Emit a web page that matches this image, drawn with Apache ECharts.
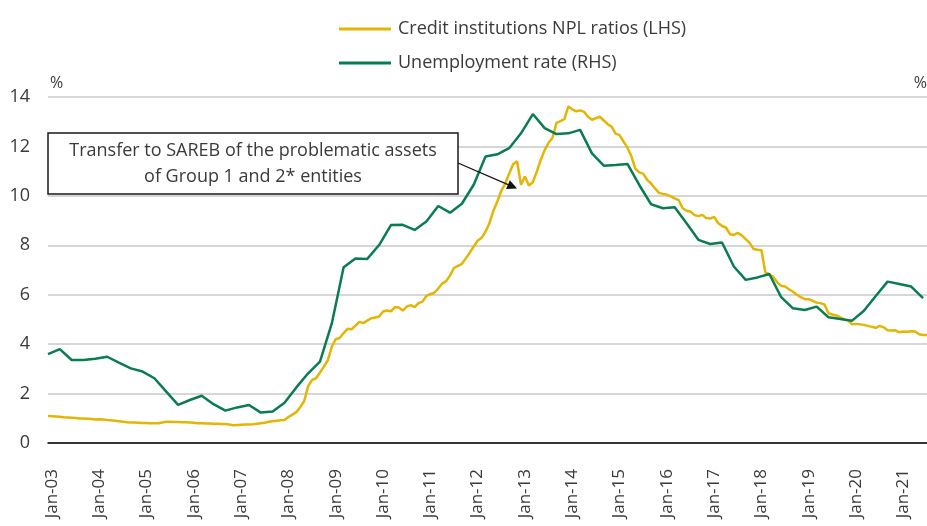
<!DOCTYPE html>
<html>
<head>
<meta charset="utf-8">
<title>NPL ratio vs unemployment</title>
<script src="https://cdn.jsdelivr.net/npm/echarts@6/dist/echarts.min.js"></script>
<style>
html, body { margin: 0; padding: 0; background: #fff; }
#chart { width: 927px; height: 526px; }
</style>
</head>
<body>
<div id="chart"></div>
<script>
// months Dec-02 .. Jul-21
var startYear = 2002, startMonth = 11, monthCount = 224;
var monthNames = ['Jan','Feb','Mar','Apr','May','Jun','Jul','Aug','Sep','Oct','Nov','Dec'];

// credit institutions NPL ratio, monthly (LHS)
var nplRatio = [
    1.09,1.08,1.07,1.06,1.04,1.03,1.02,1.01,0.99,0.99,0.98,0.97,
    0.95,0.96,0.95,0.93,0.92,0.90,0.88,0.86,0.84,0.83,0.83,0.82,
    0.81,0.81,0.80,0.80,0.80,0.83,0.86,0.86,0.85,0.85,0.84,0.84,
    0.83,0.82,0.80,0.80,0.79,0.79,0.78,0.78,0.77,0.77,0.75,0.72,
    0.73,0.74,0.75,0.75,0.76,0.78,0.80,0.82,0.86,0.88,0.90,0.92,
    0.93,1.05,1.15,1.25,1.45,1.70,2.30,2.55,2.62,2.85,3.10,3.35,
    3.90,4.20,4.25,4.45,4.62,4.60,4.75,4.90,4.85,4.95,5.05,5.08,
    5.12,5.32,5.36,5.33,5.50,5.48,5.36,5.52,5.58,5.50,5.66,5.72,
    5.95,6.02,6.08,6.25,6.45,6.55,6.78,7.08,7.17,7.25,7.47,7.70,
    7.95,8.18,8.30,8.55,8.90,9.40,9.77,10.20,10.50,10.90,11.28,11.40,
    10.45,10.78,10.42,10.55,10.98,11.45,11.85,12.15,12.35,12.95,13.02,13.10,
    13.62,13.50,13.42,13.46,13.40,13.20,13.08,13.14,13.20,13.05,12.90,12.80,
    12.52,12.46,12.20,11.95,11.60,11.10,10.95,10.90,10.65,10.50,10.30,10.12,
    10.08,10.05,9.98,9.90,9.83,9.50,9.40,9.36,9.22,9.18,9.23,9.10,
    9.08,9.15,8.90,8.78,8.72,8.45,8.42,8.50,8.40,8.25,8.10,7.85,
    7.82,7.80,6.90,6.82,6.72,6.50,6.36,6.33,6.22,6.12,6.00,5.90,
    5.82,5.82,5.75,5.68,5.66,5.60,5.25,5.20,5.16,5.08,5.00,4.95,
    4.80,4.82,4.80,4.78,4.74,4.70,4.66,4.74,4.68,4.56,4.55,4.56,
    4.48,4.51,4.50,4.52,4.51,4.40,4.37,4.37
];

// unemployment rate, quarterly Q4-02 .. Q2-21 (RHS, read in LHS units)
var unemploymentQ = [
    3.60,3.80,3.36,3.36,3.41,3.49,3.25,3.02,2.89,2.62,
    2.08,1.54,1.74,1.91,1.57,1.31,1.44,1.54,1.23,1.27,
    1.63,2.25,2.82,3.29,4.84,7.11,7.47,7.45,8.01,8.82,
    8.83,8.62,8.96,9.59,9.32,9.68,10.45,11.59,11.68,11.93,
    12.53,13.31,12.74,12.50,12.53,12.67,11.72,11.22,11.25,11.29,
    10.44,9.66,9.50,9.54,8.89,8.22,8.05,8.11,7.14,6.60,
    6.70,6.84,5.90,5.45,5.38,5.52,5.09,5.02,4.95,5.35,
    5.95,6.53,6.43,6.33,5.86
];

var yTicks = [0, 2, 4, 6, 8, 10, 12, 14];

var months = [];
for (var i = 0; i < monthCount; i++) {
    var m = (startMonth + i) % 12;
    var y = startYear + Math.floor((startMonth + i) / 12);
    months.push(monthNames[m] + '-' + String(y % 100).padStart(2, '0'));
}

// quarterly points sit on the last month of each quarter
var unemploymentMonthly = months.map(function () { return null; });
unemploymentQ.forEach(function (v, k) { unemploymentMonthly[k * 3] = v; });

var yellow = '#e3b505';
var green = '#0b7c50';
var font = 'Open Sans';
var textColor = '#3a3a3a';

var chart = echarts.init(document.getElementById('chart'));

var option = {
    animation: false,
    textStyle: { fontFamily: font },
    legend: {
        orient: 'vertical',
        left: 334,
        top: 15,
        itemWidth: 52,
        itemHeight: 3,
        itemGap: 16,
        icon: 'rect',
        textStyle: { fontSize: 18, color: textColor, fontFamily: font, padding: [0, 0, 0, 2] },
        data: ['Credit institutions NPL ratios (LHS)', 'Unemployment rate (RHS)']
    },
    grid: { left: 48, right: 0, top: 97, bottom: 83, containLabel: false },
    xAxis: {
        type: 'category',
        data: months,
        boundaryGap: false,
        axisLine: { lineStyle: { color: '#000', width: 1.5 } },
        axisTick: { show: false },
        splitLine: { show: false },
        axisLabel: {
            rotate: 90,
            margin: 26,
            fontSize: 17,
            color: textColor,
            fontFamily: font,
            interval: function (idx, val) { return val.indexOf('Jan') === 0; }
        }
    },
    yAxis: [{
        type: 'value',
        min: yTicks[0],
        max: yTicks[yTicks.length - 1],
        interval: 2,
        axisLine: { show: false },
        axisTick: { show: false },
        splitLine: { lineStyle: { color: '#c8c8c8', width: 1.5 } },
        axisLabel: { fontSize: 18, color: textColor, margin: 18, fontFamily: font }
    }, {
        type: 'value',
        min: yTicks[0],
        max: yTicks[yTicks.length - 1],
        interval: 2,
        axisLine: { show: false },
        axisTick: { show: false },
        splitLine: { show: false },
        axisLabel: { show: false }
    }],
    series: [{
        name: 'Credit institutions NPL ratios (LHS)',
        type: 'line',
        data: nplRatio,
        yAxisIndex: 0,
        symbol: 'none',
        z: 3,
        lineStyle: { color: yellow, width: 2.5 },
        itemStyle: { color: yellow }
    }, {
        name: 'Unemployment rate (RHS)',
        type: 'line',
        data: unemploymentMonthly,
        yAxisIndex: 1,
        connectNulls: true,
        symbol: 'none',
        z: 4,
        lineStyle: { color: green, width: 2.5 },
        itemStyle: { color: green }
    }]
};

chart.setOption(option);

// annotation box and arrow pointing at Dec-12 drop
var tip = chart.convertToPixel({ xAxisIndex: 0, yAxisIndex: 0 }, [months[119], 10.3]);
var box = { x: 48, y: 133, w: 410, h: 61 };
var from = [box.x + box.w, box.y + 30];
var ang = Math.atan2(tip[1] - from[1], tip[0] - from[0]);
var head = 11, spread = 0.45;

chart.setOption({
    graphic: [
        {
            type: 'text', left: 50, top: 75,
            style: { text: '%', fontSize: 16, fill: textColor, fontFamily: font }
        },
        {
            type: 'text', right: 0, top: 75,
            style: { text: '%', fontSize: 16, fill: textColor, fontFamily: font }
        },
        {
            type: 'rect', z: 10,
            shape: { x: box.x, y: box.y, width: box.w, height: box.h },
            style: { fill: '#fff', stroke: '#1a1a1a', lineWidth: 1.5 }
        },
        {
            type: 'text', z: 11,
            x: box.x + box.w / 2, y: box.y + box.h / 2,
            style: {
                text: 'Transfer to SAREB of the problematic assets\nof Group 1 and 2* entities',
                align: 'center', verticalAlign: 'middle',
                fontSize: 18, lineHeight: 26, fill: textColor, fontFamily: font
            }
        },
        {
            type: 'line', z: 10,
            shape: { x1: from[0], y1: from[1], x2: tip[0] - Math.cos(ang) * 6, y2: tip[1] - Math.sin(ang) * 6 },
            style: { stroke: '#111', lineWidth: 1.3 }
        },
        {
            type: 'polygon', z: 10,
            shape: { points: [
                tip,
                [tip[0] - head * Math.cos(ang - spread), tip[1] - head * Math.sin(ang - spread)],
                [tip[0] - head * Math.cos(ang + spread), tip[1] - head * Math.sin(ang + spread)]
            ] },
            style: { fill: '#111' }
        }
    ]
});
</script>
</body>
</html>
